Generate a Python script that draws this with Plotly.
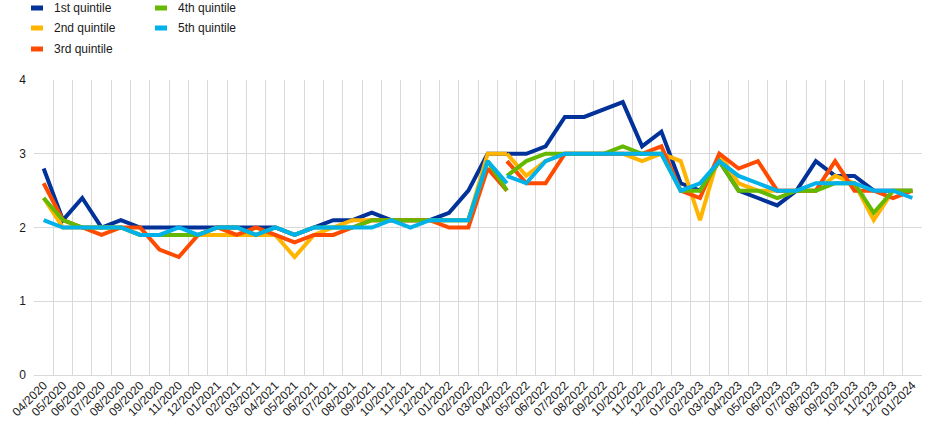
import plotly.graph_objects as go

months = ["04/2020", "05/2020", "06/2020", "07/2020", "08/2020", "09/2020", "10/2020", "11/2020", "12/2020",
          "01/2021", "02/2021", "03/2021", "04/2021", "05/2021", "06/2021", "07/2021", "08/2021", "09/2021",
          "10/2021", "11/2021", "12/2021", "01/2022", "02/2022", "03/2022", "04/2022", "05/2022", "06/2022",
          "07/2022", "08/2022", "09/2022", "10/2022", "11/2022", "12/2022", "01/2023", "02/2023", "03/2023",
          "04/2023", "05/2023", "06/2023", "07/2023", "08/2023", "09/2023", "10/2023", "11/2023", "12/2023",
          "01/2024"]

# old survey wave: 04/2020 .. 04/2022 (25 values)
q1_old = [2.8, 2.1, 2.4, 2.0, 2.1, 2.0, 2.0, 2.0, 2.0, 2.0, 2.0, 2.0, 2.0, 1.9, 2.0, 2.1, 2.1, 2.2, 2.1, 2.1, 2.1, 2.2, 2.5, 3.0, 3.0]
q2_old = [2.4, 2.0, 2.0, 2.0, 2.0, 1.9, 1.9, 1.9, 1.9, 1.9, 1.9, 1.9, 1.9, 1.6, 1.9, 2.0, 2.1, 2.1, 2.1, 2.1, 2.1, 2.1, 2.1, 3.0, 3.0]
q3_old = [2.6, 2.1, 2.0, 1.9, 2.0, 2.0, 1.7, 1.6, 1.9, 2.0, 1.9, 2.0, 1.9, 1.8, 1.9, 1.9, 2.0, 2.1, 2.1, 2.1, 2.1, 2.0, 2.0, 2.8, 2.5]
q4_old = [2.4, 2.1, 2.0, 2.0, 2.0, 1.9, 1.9, 1.9, 1.9, 2.0, 2.0, 1.9, 2.0, 1.9, 2.0, 2.0, 2.0, 2.1, 2.1, 2.1, 2.1, 2.1, 2.1, 2.9, 2.5]
q5_old = [2.1, 2.0, 2.0, 2.0, 2.0, 1.9, 1.9, 2.0, 1.9, 2.0, 2.0, 1.9, 2.0, 1.9, 2.0, 2.0, 2.0, 2.0, 2.1, 2.0, 2.1, 2.1, 2.1, 2.9, 2.6]

# new survey wave: 04/2022 .. 01/2024 (22 values)
q1_new = [3.0, 3.0, 3.1, 3.5, 3.5, 3.6, 3.7, 3.1, 3.3, 2.6, 2.5, 2.9, 2.5, 2.4, 2.3, 2.5, 2.9, 2.7, 2.7, 2.5, 2.5, 2.5]
q2_new = [3.0, 2.7, 2.9, 3.0, 3.0, 3.0, 3.0, 2.9, 3.0, 2.9, 2.1, 3.0, 2.6, 2.5, 2.5, 2.5, 2.5, 2.7, 2.6, 2.1, 2.5, 2.5]
q3_new = [2.9, 2.6, 2.6, 3.0, 3.0, 3.0, 3.0, 3.0, 3.1, 2.5, 2.4, 3.0, 2.8, 2.9, 2.5, 2.5, 2.5, 2.9, 2.5, 2.5, 2.4, 2.5]
q4_new = [2.7, 2.9, 3.0, 3.0, 3.0, 3.0, 3.1, 3.0, 3.0, 2.5, 2.5, 2.9, 2.5, 2.5, 2.4, 2.5, 2.5, 2.6, 2.6, 2.2, 2.5, 2.5]
q5_new = [2.7, 2.6, 2.9, 3.0, 3.0, 3.0, 3.0, 3.0, 3.0, 2.5, 2.6, 2.9, 2.7, 2.6, 2.5, 2.5, 2.6, 2.6, 2.6, 2.5, 2.5, 2.4]

series_names = ["1st quintile", "2nd quintile", "3rd quintile", "4th quintile", "5th quintile"]
colors = ["#003299", "#FFB400", "#FF4B00", "#65B800", "#00B1EA"]
y_ticks = [0, 1, 2, 3, 4]

old_sets = [q1_old, q2_old, q3_old, q4_old, q5_old]
new_sets = [q1_new, q2_new, q3_new, q4_new, q5_new]

x_old = months[:len(q1_old)]
x_new = months[len(q1_old) - 1:]

fig = go.Figure()
for name, col, ys in zip(series_names, colors, old_sets):
    fig.add_trace(go.Scatter(x=x_old, y=ys, mode="lines", name=name,
                             line=dict(color=col, width=4), showlegend=False))
for name, col, ys in zip(series_names, colors, new_sets):
    fig.add_trace(go.Scatter(x=x_new, y=ys, mode="lines", name=name,
                             line=dict(color=col, width=4), showlegend=False))

W, H = 945, 433
L, R, T, B = 34, 23, 80, 58
pw, ph = W - L - R, H - T - B

def px(x):
    return (x - L) / pw

def py(y):
    return (H - B - y) / ph

# manual legend (two columns)
legend_pos = [(31, 8), (31, 28), (31, 49), (155, 8), (155, 28)]
for (lx, ly), name, col in zip(legend_pos, series_names, colors):
    fig.add_shape(type="rect", xref="paper", yref="paper",
                  x0=px(lx), x1=px(lx + 12), y0=py(ly - 2.5), y1=py(ly + 2.5),
                  fillcolor=col, line=dict(width=0))
    fig.add_annotation(x=px(lx + 21), y=py(ly), xref="paper", yref="paper",
                       text=name, showarrow=False, xanchor="left", yanchor="middle",
                       font=dict(family="Liberation Sans, Arial", size=12, color="#1a1a1a"))

fig.update_layout(
    width=W, height=H,
    margin=dict(l=L, r=R, t=T, b=B, autoexpand=False),
    paper_bgcolor="white", plot_bgcolor="white",
    font=dict(family="Liberation Sans, Arial", size=12, color="#1a1a1a"),
    showlegend=False,
)
fig.update_xaxes(type="category", categoryorder="array", categoryarray=months,
                 range=[-0.5, len(months) - 0.5], automargin=False,
                 tickson="boundaries", showgrid=True, gridcolor="#d9d9d9", gridwidth=1,
                 ticks="", tickangle=-45, tickfont=dict(size=12),
                 showline=False, zeroline=False)
fig.update_yaxes(range=[0, 4], tickvals=y_ticks, showgrid=True, gridcolor="#d9d9d9", gridwidth=1,
                 automargin=False, ticklabelstandoff=7,
                 zeroline=True, zerolinecolor="#d9d9d9", zerolinewidth=1,
                 ticks="", tickfont=dict(size=12), showline=False)

fig.write_html("out.html", config={"displayModeBar": False},
               post_script="document.body.style.margin='0';document.body.style.overflow='hidden';")
